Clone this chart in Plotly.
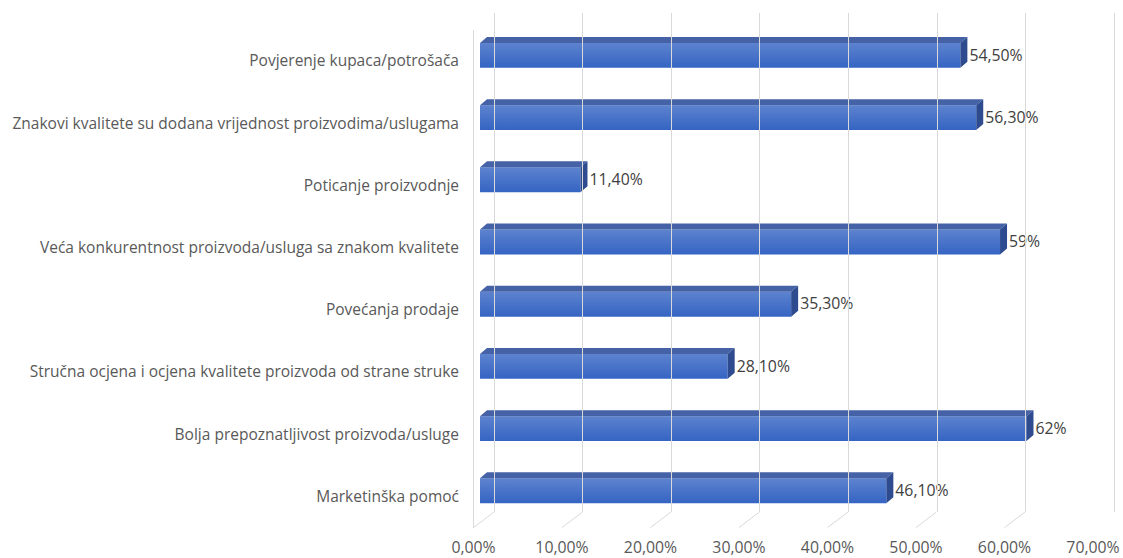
import plotly.graph_objects as go

categories = [
    "Povjerenje kupaca/potrošača",
    "Znakovi kvalitete su dodana vrijednost proizvodima/uslugama",
    "Poticanje proizvodnje",
    "Veća konkurentnost proizvoda/usluga sa znakom kvalitete",
    "Povećanja prodaje",
    "Stručna ocjena i ocjena kvalitete proizvoda od strane struke",
    "Bolja prepoznatljivost proizvoda/usluge",
    "Marketinška pomoć",
]
values_pct = [54.5, 56.3, 11.4, 59, 35.3, 28.1, 62, 46.1]
value_labels = ["54,50%", "56,30%", "11,40%", "59%", "35,30%", "28,10%", "62%", "46,10%"]
tick_values_pct = [0, 10, 20, 30, 40, 50, 60, 70]

W, H = 1123, 558
FONT = "'Open Sans', sans-serif"

values = [v / 100 for v in values_pct]
ticks = [t / 100 for t in tick_values_pct]
positions = list(range(len(categories)))
xmax = ticks[-1]

def fx(p):
    return p / W

def fy(p):
    return 1 - p / H

# bar plane
bar_x0, bar_x1 = 480, 1097
bar_y_top, bar_y_bot = 29.9, 527.5
# front floor (tick labels)
front_x0, front_x1 = 473.5, 1093
# back wall (gridlines)
back_x0, back_x1 = 494, 1114.5
back_y_top, back_y_bot = 13, 512

px_per_unit_x = (bar_x1 - bar_x0) / xmax
px_per_unit_y = (bar_y_bot - bar_y_top) / len(categories)
dx = 7 / px_per_unit_x
dy = 6 / px_per_unit_y
bar_offset = -0.29
bar_width = 0.40

fig = go.Figure()

fig.add_trace(go.Bar(
    x=values, y=positions, orientation="h",
    width=bar_width, offset=bar_offset,
    marker=dict(color="#3564C3", line=dict(width=0)),
    hoverinfo="skip", showlegend=False,
))

# soft highlight on the upper part of each front face
for p, v in zip(positions, values):
    t = p + bar_offset
    b = p + bar_offset + bar_width
    fig.add_trace(go.Scatter(
        x=[0, v, v, 0, 0], y=[t, t, b, b, t], mode="lines", fill="toself",
        fillgradient=dict(type="vertical",
                          colorscale=[[0, "rgba(255,255,255,0)"],
                                      [1, "rgba(255,255,255,0.2)"]]),
        line=dict(width=0), hoverinfo="skip", showlegend=False,
    ))

top_x, top_y, side_x, side_y = [], [], [], []
for p, v in zip(positions, values):
    t = p + bar_offset
    b = p + bar_offset + bar_width
    top_x += [0, dx, v + dx, v, 0, None]
    top_y += [t, t - dy, t - dy, t, t, None]
    side_x += [v, v + dx, v + dx, v, v, None]
    side_y += [t, t - dy, b - dy, b, t, None]

fig.add_trace(go.Scatter(x=top_x, y=top_y, mode="lines", fill="toself",
                         fillcolor="#4562A6", line=dict(width=0),
                         hoverinfo="skip", showlegend=False))
fig.add_trace(go.Scatter(x=side_x, y=side_y, mode="lines", fill="toself",
                         fillcolor="#2D4B8E", line=dict(width=0),
                         hoverinfo="skip", showlegend=False))

fig.add_trace(go.Scatter(
    x=[v + dx + 2 / px_per_unit_x for v in values], y=[p - 0.07 for p in positions],
    mode="text", text=value_labels, textposition="middle right",
    textfont=dict(family=FONT, size=15.8, color="#404040"),
    hoverinfo="skip", showlegend=False,
))

# helper traces so the extra subplots exist
fig.add_trace(go.Scatter(x=[None], y=[None], xaxis="x2", yaxis="y2",
                         showlegend=False, hoverinfo="skip"))
fig.add_trace(go.Scatter(x=[None], y=[None], xaxis="x3", yaxis="y3",
                         showlegend=False, hoverinfo="skip"))

# floor diagonals
depth_units = (back_x0 - front_x0) / ((front_x1 - front_x0) / xmax)
shapes = []
for t in ticks:
    shapes.append(dict(type="line", xref="x2", yref="paper",
                       x0=t, y0=fy(bar_y_bot), x1=t + depth_units, y1=fy(back_y_bot),
                       line=dict(color="#D9D9D9", width=1)))

# back wall axis padded a few px each side so edge gridlines are drawn
back_ppu = (back_x1 - back_x0) / xmax
pad_px = 4
pad = pad_px / back_ppu

common = dict(automargin=False, fixedrange=True)

fig.update_layout(
    width=W, height=H,
    margin=dict(l=0, r=0, t=0, b=0),
    paper_bgcolor="white", plot_bgcolor="rgba(0,0,0,0)",
    separators=", ",
    font=dict(family=FONT, color="#595959"),
    shapes=shapes,
    xaxis=dict(domain=[fx(bar_x0), fx(bar_x1)], range=[0, xmax], anchor="y",
               showgrid=False, zeroline=False, showticklabels=False, **common),
    yaxis=dict(domain=[fy(bar_y_bot), fy(bar_y_top)], range=[len(categories) - 0.5, -0.5],
               anchor="x", tickvals=positions, ticktext=categories, ticks="",
               ticklabelstandoff=20, showgrid=False, zeroline=False,
               tickfont=dict(family=FONT, size=15.5, color="#595959"), **common),
    xaxis2=dict(domain=[fx(front_x0), fx(front_x1)], range=[0, xmax], anchor="y2",
                tickvals=ticks, tickformat=".2%", ticks="", ticklabelstandoff=9,
                showgrid=False, zeroline=False, showline=False,
                tickfont=dict(family=FONT, size=15.8, color="#595959"), **common),
    yaxis2=dict(domain=[fy(bar_y_bot), fy(bar_y_top)], range=[0, 1], anchor="x2",
                showline=True, linecolor="#D9D9D9", linewidth=1,
                showticklabels=False, showgrid=False, zeroline=False, ticks="", **common),
    xaxis3=dict(domain=[fx(back_x0 - pad_px), fx(min(back_x1 + pad_px, W))],
                range=[-pad, xmax + pad * min(pad_px, W - back_x1) / pad_px],
                anchor="y3", tickvals=ticks, showticklabels=False, showgrid=True,
                gridcolor="#D9D9D9", gridwidth=1, zeroline=False, ticks="", **common),
    yaxis3=dict(domain=[fy(back_y_bot), fy(back_y_top)], range=[0, 1], anchor="x3",
                showticklabels=False, showgrid=False, zeroline=False, ticks="", **common),
)

fig.write_html("out.html", config={"displayModeBar": False},
               post_script="document.body.style.margin='0';document.body.style.overflow='hidden';")
